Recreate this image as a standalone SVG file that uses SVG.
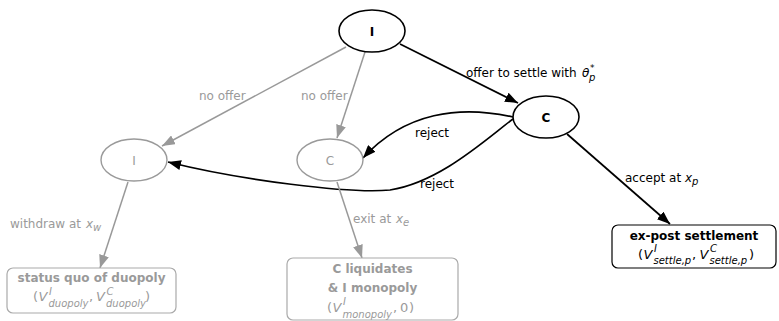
<svg xmlns="http://www.w3.org/2000/svg" width="779" height="321" viewBox="0 0 779 321">
<style>
text{font-family:"DejaVu Sans",sans-serif;font-size:12px}
.k{fill:#000}
.g{fill:#9a9a9a}
.b{font-weight:bold}
.i{font-style:italic}
.m{font-size:13px}
.s{font-size:10px;font-style:italic}
.nb{fill:#fff;stroke:#000;stroke-width:1.6}
.ng{fill:#fff;stroke:#9a9a9a;stroke-width:1.4}
.eb{fill:none;stroke:#000;stroke-width:1.7}
.eg{fill:none;stroke:#999;stroke-width:1.5}
.bb{fill:#fff;stroke:#000;stroke-width:1.2}
.bg{fill:#fff;stroke:#aaa;stroke-width:1.2}
</style>
<defs>
<marker id="ab" markerUnits="userSpaceOnUse" markerWidth="14" markerHeight="10" refX="13" refY="5" orient="auto"><path d="M0,0 L13,5 L0,10 z" fill="#000"/></marker>
<marker id="ag" markerUnits="userSpaceOnUse" markerWidth="14" markerHeight="10" refX="13" refY="5" orient="auto"><path d="M0,0 L13,5 L0,10 z" fill="#999"/></marker>
</defs>
<g id="connectors">
<path class="eg" d="M346,47 L162,146" marker-end="url(#ag)"/>
<path class="eg" d="M365,52 L337,138" marker-end="url(#ag)"/>
<path class="eb" d="M400,44 L518,103" marker-end="url(#ab)"/>
<path class="eb" d="M513,117 C460,105 405,112 363,158" marker-end="url(#ab)"/>
<path class="eb" d="M513,119 C485,140 440,182 390,190 C350,194 240,180 168,162" marker-end="url(#ab)"/>
<path class="eg" d="M128,182 L100,268" marker-end="url(#ag)"/>
<path class="eg" d="M337,182 L362,258" marker-end="url(#ag)"/>
<path class="eb" d="M567,134 L670,224" marker-end="url(#ab)"/>
<text class="g" x="199" y="100">no offer</text>
<text class="g" x="301" y="100">no offer</text>
<text class="k" x="466" y="77">offer to settle with </text>
<text class="k i" x="582" y="77">θ</text>
<text class="k" x="590" y="71" style="font-size:9px;font-style:italic">*</text>
<text class="k s" x="589" y="81">p</text>
<text class="k" x="415" y="137">reject</text>
<text class="k" x="420" y="188">reject</text>
<text class="g" x="10" y="228">withdraw at </text>
<text class="g i" x="86" y="228">x</text>
<text class="g s" x="93" y="231">w</text>
<text class="g" x="353" y="223">exit at </text>
<text class="g i" x="396" y="223">x</text>
<text class="g s" x="403" y="226">e</text>
<text class="k" x="625" y="182">accept at </text>
<text class="k i" x="685" y="182">x</text>
<text class="k s" x="692" y="185">p</text>
</g>
<g id="node-I-root">
<ellipse class="nb" cx="372" cy="31" rx="33" ry="21"/>
<text class="k b" x="372" y="35.5" text-anchor="middle">I</text>
</g>
<g id="node-C-offer">
<ellipse class="nb" cx="546" cy="117" rx="33" ry="21"/>
<text class="k b" x="546" y="121.5" text-anchor="middle">C</text>
</g>
<g id="node-I-nooffer">
<ellipse class="ng" cx="134" cy="160" rx="33" ry="21"/>
<text class="g" x="134" y="164.5" text-anchor="middle">I</text>
</g>
<g id="node-C-nooffer">
<ellipse class="ng" cx="330" cy="160" rx="33" ry="21"/>
<text class="g" x="330" y="164.5" text-anchor="middle">C</text>
</g>
<g id="box-status-quo">
<rect class="bg" x="7" y="268" width="169" height="45" rx="6"/>
<text class="g b" x="91.5" y="282" text-anchor="middle">status quo of duopoly</text>
<text class="g m" x="33" y="301">(</text>
<text class="g m i" x="38.5" y="301">V</text>
<text class="g s" x="49" y="294.5">I</text>
<text class="g s" x="48.5" y="307">duopoly</text>
<text class="g m" x="89" y="301">,</text>
<text class="g m i" x="96" y="301">V</text>
<text class="g s" x="106.5" y="294.5">C</text>
<text class="g s" x="106" y="307">duopoly</text>
<text class="g m" x="145" y="301">)</text>
</g>
<g id="box-liquidates">
<rect class="bg" x="287" y="258" width="171" height="62" rx="6"/>
<text class="g b" x="372.5" y="273" text-anchor="middle">C liquidates</text>
<text class="g b" x="372.5" y="292" text-anchor="middle">&amp; I monopoly</text>
<text class="g m" x="327" y="312">(</text>
<text class="g m i" x="332.5" y="312">V</text>
<text class="g s" x="343" y="305">I</text>
<text class="g s" x="342.5" y="317.5">monopoly</text>
<text class="g m" x="393" y="312">,</text>
<text class="g m" x="400" y="312">0</text>
<text class="g m" x="409" y="312">)</text>
</g>
<g id="box-settlement">
<rect class="bb" x="612" y="225" width="164" height="43" rx="6"/>
<text class="k b" x="694" y="239.5" text-anchor="middle">ex-post settlement</text>
<text class="k m" x="638" y="258.5">(</text>
<text class="k m i" x="643.5" y="258.5">V</text>
<text class="k s" x="654" y="252">I</text>
<text class="k s" x="653.5" y="264">settle,p</text>
<text class="k m" x="692" y="258.5">,</text>
<text class="k m i" x="699.5" y="258.5">V</text>
<text class="k s" x="710" y="252">C</text>
<text class="k s" x="709.5" y="264">settle,p</text>
<text class="k m" x="749" y="258.5">)</text>
</g>
</svg>
